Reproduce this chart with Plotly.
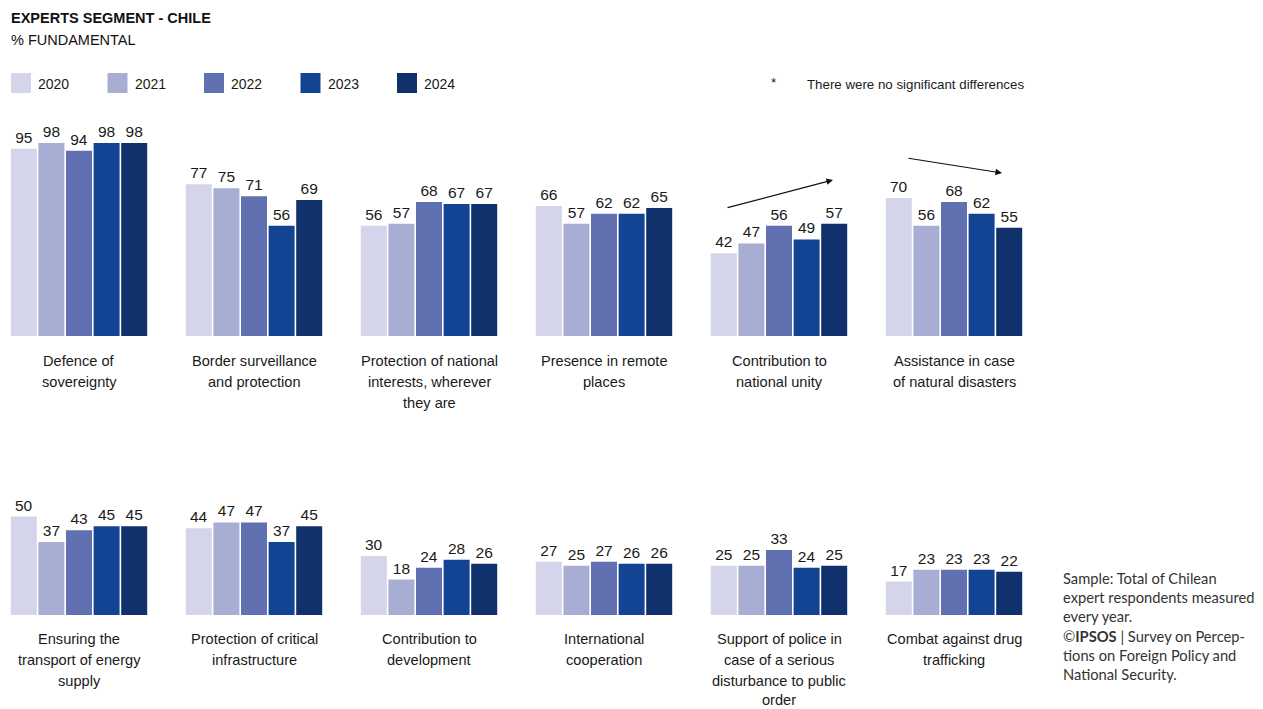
import plotly.graph_objects as go

W, H = 1263, 709

years = ["2020", "2021", "2022", "2023", "2024"]
colors = ["#D4D4EA", "#A8ADD4", "#6170B0", "#134493", "#10316B"]

categories = [
    "Defence of<br>sovereignty",
    "Border surveillance<br>and protection",
    "Protection of national<br>interests, wherever<br>they are",
    "Presence in remote<br>places",
    "Contribution to<br>national unity",
    "Assistance in case<br>of natural disasters",
    "Ensuring the<br>transport of energy<br>supply",
    "Protection of critical<br>infrastructure",
    "Contribution to<br>development",
    "International<br>cooperation",
    "Support of police in<br>case of a serious<br>disturbance to public<br>order",
    "Combat against drug<br>trafficking",
]

v2020 = [95, 77, 56, 66, 42, 70, 50, 44, 30, 27, 25, 17]
v2021 = [98, 75, 57, 57, 47, 56, 37, 47, 18, 25, 25, 23]
v2022 = [94, 71, 68, 62, 56, 68, 43, 47, 24, 27, 33, 23]
v2023 = [98, 56, 67, 62, 49, 62, 45, 37, 28, 26, 24, 23]
v2024 = [98, 69, 67, 65, 57, 55, 45, 45, 26, 26, 25, 22]
series = [v2020, v2021, v2022, v2023, v2024]

FONT = "Liberation Sans, Arial, sans-serif"
TXT = "#1a1a1a"

# panel geometry in pixels
left0, pitch, pw = 10, 175, 138
baselines = [336, 615]
plot_h = 197  # 0..100
label_first_line = [361, 639]
label_line_gap = 20.8


def px_x(p):
    return p / W


def px_y(p):
    return 1 - p / H


fig = go.Figure()
layout_axes = {}
annotations = []

for i, cat in enumerate(categories):
    row, col = divmod(i, 6)
    n = i + 1
    xname = "x" if n == 1 else f"x{n}"
    yname = "y" if n == 1 else f"y{n}"
    vals = [s[i] for s in series]
    fig.add_trace(go.Bar(
        x=years, y=vals, xaxis=xname, yaxis=yname,
        marker=dict(color=colors, line=dict(width=0)),
        texttemplate="%{y}", textposition="outside", cliponaxis=False,
        textfont=dict(family=FONT, size=15.5, color=TXT),
        showlegend=False, hoverinfo="x+y",
    ))
    x0 = left0 + col * pitch
    b = baselines[row]
    layout_axes["xaxis" if n == 1 else f"xaxis{n}"] = dict(
        domain=[px_x(x0), px_x(x0 + pw)], anchor=yname, type="category",
        range=[-0.5, 4.5], visible=False, fixedrange=True,
    )
    layout_axes["yaxis" if n == 1 else f"yaxis{n}"] = dict(
        domain=[px_y(b), px_y(b - plot_h)], anchor=xname, range=[0, 100],
        visible=False, fixedrange=True,
    )
    # category caption, one line at a time for even spacing
    for j, line in enumerate(cat.split("<br>")):
        yc = min(label_first_line[row] + j * label_line_gap, 700)
        annotations.append(dict(
            text=line, x=px_x(x0 + pw / 2), y=px_y(yc), xref="paper", yref="paper",
            xanchor="center", yanchor="middle", showarrow=False, align="center",
            font=dict(family=FONT, size=14.6, color=TXT),
        ))

# headings
annotations.append(dict(text="<b>EXPERTS SEGMENT - CHILE</b>", x=px_x(9), y=px_y(18),
                        xref="paper", yref="paper", xanchor="left", yanchor="middle",
                        showarrow=False, font=dict(family=FONT, size=14.5, color="#111")))
annotations.append(dict(text="% FUNDAMENTAL", x=px_x(9), y=px_y(40),
                        xref="paper", yref="paper", xanchor="left", yanchor="middle",
                        showarrow=False, font=dict(family=FONT, size=14.5, color="#111")))

# legend keys
shapes = []
for k, (yr, c) in enumerate(zip(years, colors)):
    lx = 11 + k * 96.5
    shapes.append(dict(type="rect", xref="paper", yref="paper",
                       x0=px_x(lx), x1=px_x(lx + 20), y0=px_y(93), y1=px_y(73),
                       fillcolor=c, line=dict(width=0)))
    annotations.append(dict(text=yr, x=px_x(lx + 25), y=px_y(84), xref="paper", yref="paper",
                            xanchor="left", yanchor="middle", showarrow=False,
                            font=dict(family=FONT, size=14, color=TXT)))

annotations.append(dict(text="*", x=px_x(769), y=px_y(82), xref="paper", yref="paper",
                        xanchor="left", yanchor="middle", showarrow=False,
                        font=dict(family=FONT, size=13.5, color=TXT)))
annotations.append(dict(text="There were no significant differences", x=px_x(805), y=px_y(84),
                        xref="paper", yref="paper", xanchor="left", yanchor="middle",
                        showarrow=False, font=dict(family=FONT, size=13.3, color=TXT)))

# trend arrows
for head, tail in [((833, 180), (726, 208)), ((1002, 173), (907, 158))]:
    annotations.append(dict(x=px_x(head[0]), y=px_y(head[1]), xref="paper", yref="paper",
                            ax=tail[0] - head[0], ay=tail[1] - head[1], axref="pixel", ayref="pixel",
                            showarrow=True, arrowhead=2, arrowsize=1.1, arrowwidth=1.2,
                            arrowcolor="#111", text=""))

# source note
note_lines = [
    "Sample: Total of Chilean",
    "expert respondents measured",
    "every year.",
    "©<b>IPSOS</b> | Survey on Percep-",
    "tions on Foreign Policy and",
    "National Security.",
]
for j, line in enumerate(note_lines):
    annotations.append(dict(text=line, x=px_x(1061), y=px_y(578 + j * 19.2), xref="paper",
                            yref="paper", xanchor="left", yanchor="middle", showarrow=False,
                            font=dict(family="Lato, Open Sans, sans-serif", size=14.7, color="#333")))

fig.update_layout(
    width=W, height=H, margin=dict(l=0, r=0, t=0, b=0),
    paper_bgcolor="white", plot_bgcolor="white",
    bargap=0.058, annotations=annotations, shapes=shapes,
    **layout_axes,
)

fig.write_html("out.html", config={"displayModeBar": False})
